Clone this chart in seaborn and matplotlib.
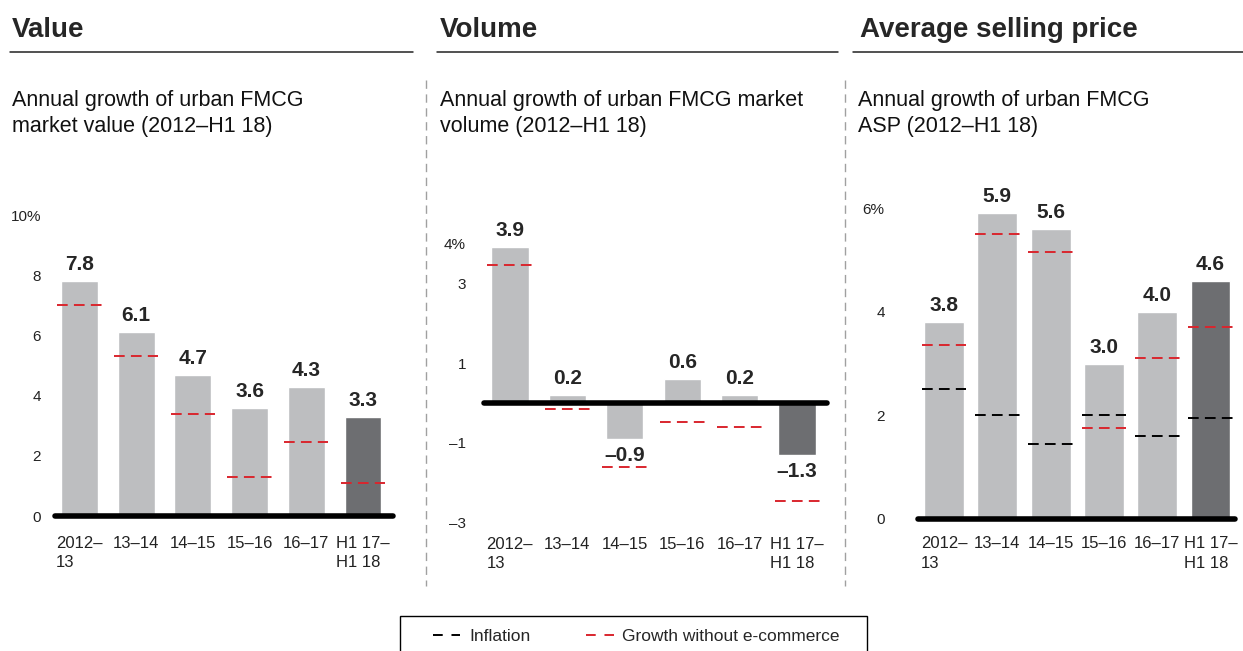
import matplotlib
matplotlib.use('Agg')
import matplotlib.pyplot as plt
from matplotlib.lines import Line2D
from matplotlib.patches import Rectangle
import numpy as np
import seaborn as sns

sns.set_style('white')
plt.rcParams['font.family'] = ['Liberation Sans', 'DejaVu Sans']

periods = ['2012\u2013\n13', '13\u201314', '14\u201315', '15\u201316', '16\u201317', 'H1 17\u2013\nH1 18']

value_growth = [7.8, 6.1, 4.7, 3.6, 4.3, 3.3]
value_no_ecom = [7.0, 5.3, 3.4, 1.3, 2.45, 1.1]

volume_growth = [3.9, 0.2, -0.9, 0.6, 0.2, -1.3]
volume_no_ecom = [3.45, -0.15, -1.6, -0.48, -0.6, -2.45]

asp_growth = [3.8, 5.9, 5.6, 3.0, 4.0, 4.6]
asp_no_ecom = [3.35, 5.5, 5.15, 1.75, 3.1, 3.7]
asp_inflation = [2.5, 2.0, 1.45, 2.0, 1.6, 1.95]

LIGHT = '#bdbec0'
DARK = '#6d6e71'
RED = '#d9262e'
bar_colors = [LIGHT] * 5 + [DARK]

W, H = 1243, 651


def fmt(v):
    s = '%.1f' % abs(v)
    return ('\u2013' + s) if v < 0 else s


def panel(rect, vals, no_ecom, infl, ylim, yticks, ylabels, xlim, bw, dw, ypad, xpad):
    ax = fig.add_axes(rect)
    sns.barplot(x=periods, y=vals, hue=periods, palette=bar_colors, legend=False,
                width=bw, saturation=1, ax=ax, zorder=2)
    pos = np.arange(len(periods))
    if infl is not None:
        ax.hlines(infl, pos - dw, pos + dw, color='black', lw=1.4,
                  linestyles=(0, (5.5, 3.2)), zorder=3)
    ax.hlines(no_ecom, pos - dw, pos + dw, color=RED, lw=1.4,
              linestyles=(0, (5.5, 3.2)), zorder=3)
    ax.axhline(0, color='black', lw=4, zorder=4, clip_on=False)
    for x, v in zip(pos, vals):
        if v >= 0:
            ax.annotate(fmt(v), (x, v), xytext=(0, 5), textcoords='offset points',
                        ha='center', va='bottom', fontsize=15, fontweight='bold')
        else:
            ax.annotate(fmt(v), (x, v), xytext=(0, -5), textcoords='offset points',
                        ha='center', va='top', fontsize=15, fontweight='bold')
    ax.set_xlim(*xlim)
    ax.set_ylim(*ylim)
    ax.set_yticks(yticks)
    ax.set_yticklabels(ylabels, fontsize=11, color='#222222')
    ax.set_xticks(pos)
    ax.set_xticklabels(periods, fontsize=12, color='#222222', multialignment='left',
                       linespacing=1.35)
    ax.tick_params(axis='y', length=0, pad=ypad)
    ax.tick_params(axis='x', length=0, pad=xpad)
    ax.set_xlabel('')
    ax.set_ylabel('')
    sns.despine(ax=ax, left=True, bottom=True)
    ax.patch.set_alpha(0)
    return ax


fig = plt.figure(figsize=(W / 100, H / 100), dpi=100)

panel([55 / W, 1 - 516 / H, 338 / W, 301 / H], value_growth, value_no_ecom, None,
      (0, 10), [0, 2, 4, 6, 8, 10], ['0', '2', '4', '6', '8', '10%'],
      (-0.43, 5.53), 0.65, 0.39, 10, 14.5)
panel([484 / W, 1 - 523 / H, 343 / W, 280 / H], volume_growth, volume_no_ecom, None,
      (-3, 4), [-3, -1, 1, 3, 4], ['\u20133', '\u20131', '1', '3', '4%'],
      (-0.45, 5.52), 0.65, 0.39, 13, 10)
panel([918 / W, 1 - 519 / H, 317 / W, 311 / H], asp_growth, asp_no_ecom, asp_inflation,
      (0, 6), [0, 2, 4, 6], ['0', '2', '4', '6%'],
      (-0.49, 5.46), 0.75, 0.42, 24, 12.5)

# headers, underlines, subtitles
headers = ['Value', 'Volume', 'Average selling price']
subtitles = ['Annual growth of urban FMCG\nmarket value (2012\u2013H1 18)',
             'Annual growth of urban FMCG market\nvolume (2012\u2013H1 18)',
             'Annual growth of urban FMCG\nASP (2012\u2013H1 18)']
head_x = [12, 440, 860]
sub_x = [12, 440, 858]
rules = [(10, 413), (437, 838), (853, 1243)]
for hx, sx, (r0, r1), ht, st in zip(head_x, sub_x, rules, headers, subtitles):
    fig.text(hx / W, 1 - 37 / H, ht, fontsize=20, fontweight='bold', va='baseline')
    fig.add_artist(Line2D([r0 / W, r1 / W], [1 - 52 / H, 1 - 52 / H], color='#222222', lw=1.1))
    fig.text(sx / W, 1 - 90 / H, st, fontsize=15.5, va='top', linespacing=1.32, color='#111111')

# dashed separators
for sep in [426, 845]:
    fig.add_artist(Line2D([sep / W, sep / W], [1 - 80 / H, 1 - 586 / H], color='#a0a0a0',
                          lw=1.0, linestyle=(0, (6, 4))))

# legend
fig.add_artist(Rectangle((400 / W, -0.05), 467 / W, 0.05 + 1 - 616 / H, transform=fig.transFigure,
                         fill=False, edgecolor='black', lw=1.0))
handles = [Line2D([], [], color='black', lw=1.4, linestyle=(0, (5, 4.5))),
           Line2D([], [], color=RED, lw=1.4, linestyle=(0, (5, 4.5)))]
fig.legend(handles, ['Inflation', 'Growth without e-commerce'], ncol=2, frameon=False,
           loc='center left', bbox_to_anchor=(424 / W, 1 - 636 / H), borderpad=0,
           fontsize=12.5, handlelength=1.6, handletextpad=0.5, columnspacing=3.2)

fig.savefig('out.png', dpi=100)
